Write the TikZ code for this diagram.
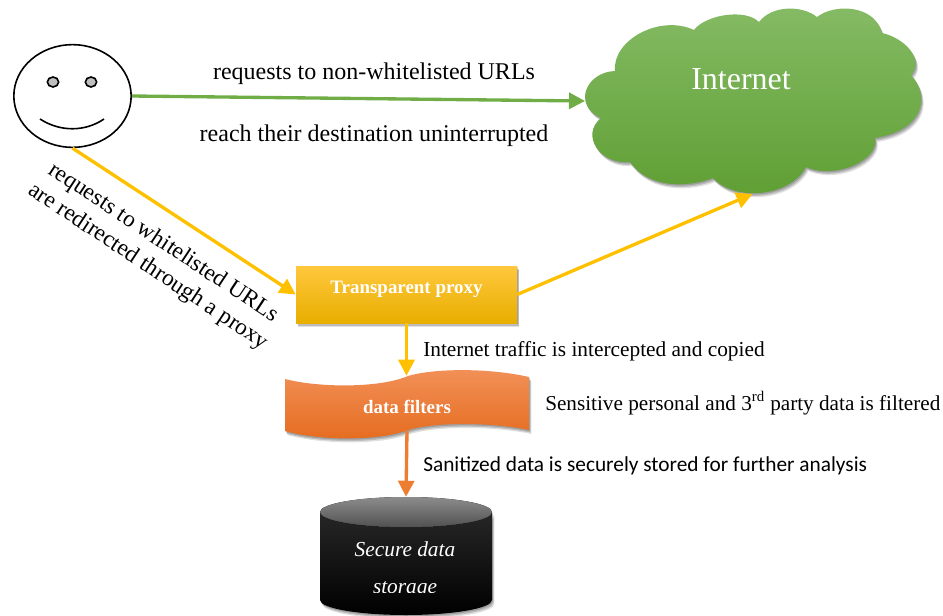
\documentclass[tikz,border=0pt]{standalone}
\usepackage{fontspec}
\setmainfont{Liberation Serif}
\newfontfamily\carlitofont{Carlito}
\usetikzlibrary{arrows.meta,shadows,shapes.geometric}

\definecolor{leaf}{HTML}{70AD47}
\definecolor{amber}{HTML}{FFC000}
\definecolor{rust}{HTML}{ED7D31}
\definecolor{leaftop}{HTML}{85BB65}
\definecolor{leafmid}{HTML}{70B040}
\definecolor{leafbot}{HTML}{5E9E32}
\definecolor{ambertop}{HTML}{FFC83D}
\definecolor{amberbot}{HTML}{E8AE00}
\definecolor{rusttop}{HTML}{F29058}
\definecolor{rustmid}{HTML}{F27A28}
\definecolor{rustbot}{HTML}{E56C1F}

\tikzset{
    softshadow/.style = {
        drop shadow = {shadow xshift = 0.6pt, shadow yshift = -1pt, fill = black, opacity = 0.16},
        drop shadow = {shadow xshift = 1.2pt, shadow yshift = -2pt, fill = black, opacity = 0.16},
        drop shadow = {shadow xshift = 1.8pt, shadow yshift = -3pt, fill = black, opacity = 0.12}},
    link/.style = {line width = 2.5pt, -{Triangle[length = 12pt, width = 12pt]}},
    label/.style = {font = \fontsize{18}{21}\selectfont, inner sep = 0pt},
    tilted/.style = {font = \fontsize{17.5}{21}\selectfont, inner sep = 0pt, rotate = -33.5},
    note/.style = {font = \fontsize{16}{19}\selectfont, inner sep = 0pt, anchor = west},
    boxtext/.style = {text = white, font = \fontsize{14.2}{17}\selectfont\bfseries, inner sep = 0pt},
    drumtext/.style = {text = white, font = \fontsize{16}{19}\selectfont\itshape, inner sep = 0pt}
}

\begin{document}
\begin{tikzpicture}[x = 0.75pt, y = -0.75pt]
        \useasboundingbox (0, 0) rectangle (943, 615);

        % user
        \node[draw, ellipse, line width = 1.2pt, minimum width = 88pt, minimum height = 77pt, inner sep = 0pt] (face) at (72.5, 96) {};
        \node[draw, ellipse, line width = 1.2pt, fill = black!25, minimum width = 8.5pt, minimum height = 7.5pt, inner sep = 0pt] (eyeleft) at (53, 82) {};
        \node[draw, ellipse, line width = 1.2pt, fill = black!25, minimum width = 8.5pt, minimum height = 7.5pt, inner sep = 0pt] (eyeright) at (91, 82) {};
        \draw[line width = 1.2pt] (40, 119) .. controls (60, 132) and (85, 132) .. (104, 119);

        % cloud
        \path[softshadow, top color = leaftop, middle color = leafmid, bottom color = leafbot]
            (615, 71) .. controls (612, 40) and (660, 14) .. (694, 30)
            .. controls (705, 15) and (745, 8) .. (759, 22)
            .. controls (772, 5) and (802, 5) .. (817, 17)
            .. controls (835, 3) and (875, 5) .. (882, 33)
            .. controls (905, 38) and (925, 60) .. (911, 75)
            .. controls (930, 95) and (925, 130) .. (875, 138)
            .. controls (880, 160) and (835, 180) .. (806, 167)
            .. controls (790, 197) and (735, 202) .. (713, 178)
            .. controls (690, 187) and (650, 190) .. (630, 162)
            .. controls (600, 165) and (580, 135) .. (601, 118)
            .. controls (572, 105) and (586, 72) .. (615, 71) -- cycle;
        \node[text = white, font = \fontsize{24}{28}\selectfont, inner sep = 0pt] (internet) at (741, 79) {Internet};
        \coordinate (cloudleft) at (585, 101);
        \coordinate (cloudbottom) at (752.5, 194);

        % proxy
        \node[softshadow, top color = ambertop, middle color = amber, bottom color = amberbot, minimum width = 165.75pt, minimum height = 42.75pt, inner sep = 0pt] (proxy) at (406.5, 294.5) {};
        \node[boxtext] (proxytext) at (406.5, 289.5) {Transparent proxy};

        % filters
        \path[softshadow, top color = rusttop, middle color = rustmid, bottom color = rustbot]
            (285, 379) .. controls (320, 388) and (380, 388) .. (408, 376)
            .. controls (435, 368) and (490, 368) .. (529, 377) -- (529, 430)
            .. controls (490, 422) and (435, 422) .. (408, 430)
            .. controls (380, 441) and (320, 441) .. (285, 431) -- cycle;
        \node[minimum width = 183pt, minimum height = 40.5pt, inner sep = 0pt] (filters) at (407, 403) {};
        \node[boxtext] (filterstext) at (407, 407) {data filters};

        % storage
        \path[softshadow, top color = black!85, middle color = black, bottom color = black]
            (320, 512) -- (320, 600) arc (180 : 0 : 86 and 15) -- (492, 512) arc (0 : 180 : 86 and 15) -- cycle;
        \fill[top color = black!45, bottom color = black!68] (406, 512) ellipse (86 and 15);
        \node[minimum width = 129pt, minimum height = 88.5pt, inner sep = 0pt] (storage) at (406, 556) {};
        \node[drumtext] (storagetop) at (405, 549) {Secure data};
        \begin{scope}
            \clip (320, 570) rectangle (492, 592);
            \node[drumtext] (storagebottom) at (405, 590) {storage};
        \end{scope}

        \draw[link, leaf] (face.east) -- (cloudleft);
        \draw[link, amber] (face.south) -- (proxy.west);
        \draw[link, amber] (proxy.east) -- (cloudbottom);
        \draw[link, amber] (proxy.south) -- (proxy.south |- filters.north);
        \draw[link, rust] (filters.south) -- (storage.north);

        \node[label] (nonwhite) at (374, 74) {requests to non-whitelisted URLs};
        \node[label] (reach) at (374, 136) {reach their destination uninterrupted};
        \node[tilted] (whitea) at (163, 243) {requests to whitelisted URLs};
        \node[tilted] (whiteb) at (148, 267) {are redirected through a proxy};
        \node[note] (intercept) at (423, 351) {Internet traffic is intercepted and copied};
        \node[note, font = \fontsize{15.9}{19}\selectfont] (sensitive) at (545, 403) {Sensitive personal and 3\textsuperscript{rd} party data is filtered};
        \node[note, font = \fontsize{16}{19}\selectfont\carlitofont] (sanitized) at (423, 466) {Sanitized data is securely stored for further analysis};
    \end{tikzpicture}
\end{document}
